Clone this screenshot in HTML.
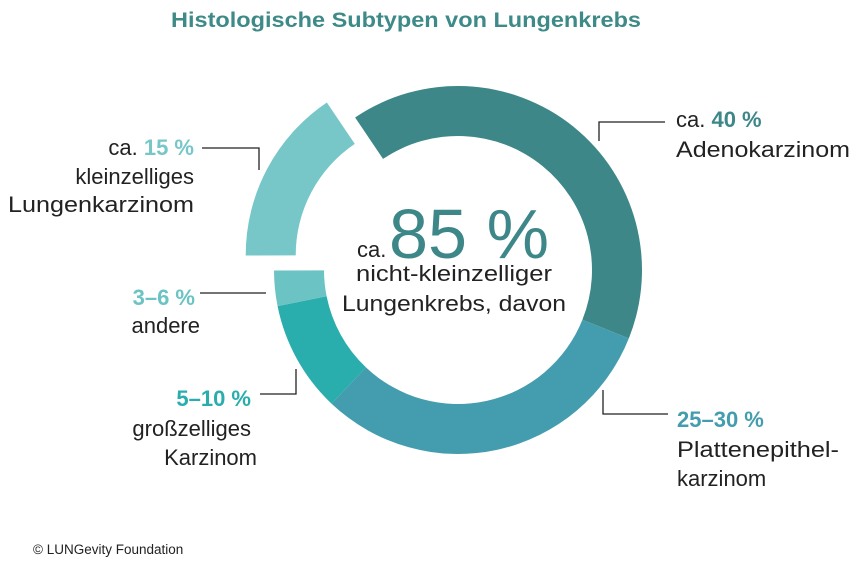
<!DOCTYPE html>
<html><head><meta charset="utf-8"><style>
html,body{margin:0;padding:0;background:#fff;}
svg{display:block;font-family:"Liberation Sans",sans-serif;}
</style></head><body>
<svg id="chart" width="859" height="567" viewBox="0 0 859 567">
<text x="406" y="27" text-anchor="middle" font-size="21" font-weight="bold" fill="#3d8a88" textLength="470" lengthAdjust="spacingAndGlyphs">Histologische Subtypen von Lungenkrebs</text>
<g id="slices"></g>
<g stroke="#222" stroke-width="1.3" fill="none">
<polyline points="665,122 599,122 599,141"/>
<polyline points="202,148 259,148 259,170"/>
<polyline points="200,293 266,293"/>
<polyline points="260,394 296,394 296,369"/>
<polyline points="668,414 603,414 603,390"/>
</g>
<g font-size="22" fill="#222">
<text x="676" y="127">ca. <tspan font-weight="bold" fill="#3d8788">40 %</tspan></text>
<text x="676" y="157" textLength="174" lengthAdjust="spacingAndGlyphs">Adenokarzinom</text>
<text x="194" y="155" text-anchor="end">ca. <tspan font-weight="bold" fill="#77c7c9">15 %</tspan></text>
<text x="194" y="184" text-anchor="end">kleinzelliges</text>
<text x="194" y="212" text-anchor="end" textLength="186" lengthAdjust="spacingAndGlyphs">Lungenkarzinom</text>
<text x="195" y="305" text-anchor="end" font-weight="bold" fill="#6cc3c3">3–6 %</text>
<text x="200" y="333" text-anchor="end">andere</text>
<text x="251" y="406" text-anchor="end" font-weight="bold" fill="#29adad">5–10 %</text>
<text x="251" y="436" text-anchor="end">großzelliges</text>
<text x="257" y="465" text-anchor="end">Karzinom</text>
<text x="677" y="427" font-weight="bold" fill="#449dae">25–30 %</text>
<text x="677" y="457" textLength="162" lengthAdjust="spacingAndGlyphs">Plattenepithel-</text>
<text x="677" y="486">karzinom</text>
<text x="357" y="257">ca.</text>
<text x="389" y="258" font-size="70" fill="#3d8788" textLength="160" lengthAdjust="spacingAndGlyphs">85 %</text>
<text x="454" y="281" text-anchor="middle" textLength="196" lengthAdjust="spacingAndGlyphs">nicht-kleinzelliger</text>
<text x="454" y="311" text-anchor="middle" textLength="224" lengthAdjust="spacingAndGlyphs">Lungenkrebs, davon</text>
</g>
<text x="33" y="554" font-size="13.5" fill="#222">© LUNGevity Foundation</text>
</svg>
<script>
const categories = ["Adenokarzinom","Plattenepithelkarzinom","großzelliges Karzinom","andere","kleinzelliges Lungenkarzinom"];
const values = [40.5, 31, 9.8, 3.1, 15.6];
const colors = ["#3d8788","#449dae","#29adad","#6cc3c3","#77c7c9"];
const exploded = [0,0,0,0,1];
const cx=458, cy=270, R=184, r=134, startDeg=326, explodeDist=32;
const g=document.getElementById('slices');
const total=values.reduce((a,b)=>a+b,0);
function pt(a,rad,ox,oy){const t=a*Math.PI/180;return [cx+ox+rad*Math.sin(t), cy+oy-rad*Math.cos(t)];}
let a0=startDeg;
values.forEach((v,i)=>{
  const span=v/total*360, a1=a0+span, mid=(a0+a1)/2*Math.PI/180;
  const ox=exploded[i]?explodeDist*Math.sin(mid):0, oy=exploded[i]?-explodeDist*Math.cos(mid):0;
  const p1=pt(a0,R,ox,oy),p2=pt(a1,R,ox,oy),p3=pt(a1,r,ox,oy),p4=pt(a0,r,ox,oy);
  const lg=span>180?1:0;
  const p=document.createElementNS('http://www.w3.org/2000/svg','path');
  p.setAttribute('d',`M${p1} A${R},${R} 0 ${lg} 1 ${p2} L${p3} A${r},${r} 0 ${lg} 0 ${p4} Z`);
  p.setAttribute('fill',colors[i]);
  
  
  g.appendChild(p);
  a0=a1;
});
</script>
</body></html>
